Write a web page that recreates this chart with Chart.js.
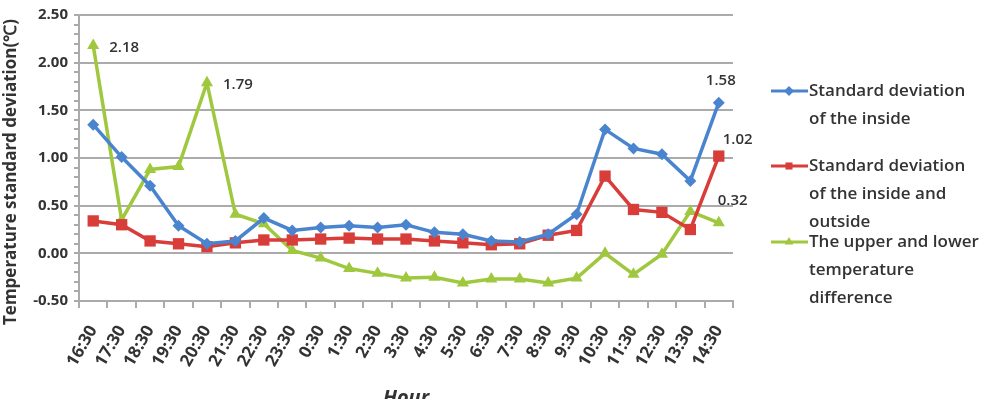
<!DOCTYPE html>
<html>
<head>
<meta charset="utf-8">
<script src="https://cdn.jsdelivr.net/npm/chart.js@4.4.1/dist/chart.umd.min.js"></script>
<style>
  html, body { margin: 0; padding: 0; background: #fff; }
  #wrap { width: 984px; height: 399px; position: relative; }
</style>
</head>
<body>
<div id="wrap"><canvas id="chart" width="984" height="399"></canvas></div>
<script>
// Hours on the x axis
const hours = ['16:30', '17:30', '18:30', '19:30', '20:30', '21:30', '22:30', '23:30',
  '0:30', '1:30', '2:30', '3:30', '4:30', '5:30', '6:30', '7:30', '8:30', '9:30',
  '10:30', '11:30', '12:30', '13:30', '14:30'];

// Standard deviation of the inside
const insideStd = [1.35, 1.01, 0.71, 0.29, 0.10, 0.13, 0.37, 0.24, 0.27, 0.29, 0.27, 0.30,
  0.22, 0.20, 0.13, 0.12, 0.20, 0.41, 1.30, 1.10, 1.04, 0.76, 1.58];

// Standard deviation of the inside and outside
const insideOutsideStd = [0.34, 0.30, 0.13, 0.10, 0.07, 0.11, 0.14, 0.14, 0.15, 0.16, 0.15, 0.15,
  0.13, 0.11, 0.09, 0.10, 0.19, 0.24, 0.81, 0.46, 0.43, 0.25, 1.02];

// The upper and lower temperature difference
const upperLowerDiff = [2.18, 0.35, 0.88, 0.91, 1.79, 0.41, 0.31, 0.03, -0.05, -0.16, -0.21, -0.26,
  -0.25, -0.31, -0.27, -0.27, -0.31, -0.26, 0.00, -0.22, -0.01, 0.44, 0.32];

// Legend text, wrapped as in the original
const legendLines = [
  ['Standard deviation', 'of the inside'],
  ['Standard deviation', 'of the inside and', 'outside'],
  ['The upper and lower', 'temperature', 'difference']
];

// Value labels shown next to some points: [dataset, index, dx, dy, align]
const valueLabels = [
  [2, 0, 16, 2, 'left'],
  [2, 4, 16, 2, 'left'],
  [0, 22, 2, -22, 'center'],
  [1, 22, 4, -16, 'left'],
  [2, 22, -1, -22, 'left']
];

const yTitle = 'Temperature standard deviation(℃)';

const BLUE = '#4a84cf';
const RED = '#d83d3a';
const GREEN = '#9fc83e';
const TEXT = '#333333';
const GRID = '#ababab';

// Draws the point value labels
const valueLabelPlugin = {
  id: 'valueLabels',
  afterDatasetsDraw(chart) {
    const ctx = chart.ctx;
    ctx.save();
    ctx.font = '600 15px "Open Sans"';
    ctx.fillStyle = TEXT;
    ctx.textBaseline = 'middle';
    valueLabels.forEach(([ds, i, dx, dy, align]) => {
      const pt = chart.getDatasetMeta(ds).data[i];
      const v = chart.data.datasets[ds].data[i];
      ctx.textAlign = align;
      ctx.fillText(v.toFixed(2), pt.x + dx, pt.y + dy);
    });
    ctx.restore();
  }
};

// Draws the legend on the right with wrapped labels, and the y axis title
const sideLegendPlugin = {
  id: 'sideLegend',
  afterDraw(chart) {
    const ctx = chart.ctx;
    const tops = [91, 166, 242];
    ctx.save();
    chart.data.datasets.forEach((ds, k) => {
      const y = tops[k];
      ctx.strokeStyle = ds.borderColor;
      ctx.lineWidth = 3;
      ctx.beginPath();
      ctx.moveTo(771, y);
      ctx.lineTo(808, y);
      ctx.stroke();
      ctx.fillStyle = ds.borderColor;
      Chart.helpers.drawPoint(ctx, { pointStyle: ds.pointStyle, radius: 5, borderWidth: 0 }, 789, y);
      ctx.fillStyle = TEXT;
      ctx.font = '600 17px "Open Sans"';
      ctx.textAlign = 'left';
      ctx.textBaseline = 'middle';
      legendLines[k].forEach((line, j) => {
        ctx.fillText(line, 809, y + j * 28);
      });
    });

    // y axis title, a bit lower than the plot centre as in the original
    ctx.translate(11, 172);
    ctx.rotate(-Math.PI / 2);
    ctx.font = 'bold 17px "Open Sans"';
    ctx.textAlign = 'center';
    ctx.textBaseline = 'middle';
    ctx.fillStyle = TEXT;
    ctx.fillText(yTitle, 0, 0);
    ctx.restore();
  }
};

const ctx = document.getElementById('chart').getContext('2d');
new Chart(ctx, {
  type: 'line',
  data: {
    labels: hours,
    datasets: [{
      label: 'Standard deviation of the inside',
      data: insideStd,
      borderColor: BLUE,
      backgroundColor: BLUE,
      borderWidth: 3.5,
      pointStyle: 'rectRot',
      pointRadius: 6,
      pointBorderWidth: 0,
      tension: 0
    }, {
      label: 'Standard deviation of the inside and outside',
      data: insideOutsideStd,
      borderColor: RED,
      backgroundColor: RED,
      borderWidth: 3.5,
      pointStyle: 'rect',
      pointRadius: 8,
      pointBorderWidth: 0,
      tension: 0
    }, {
      label: 'The upper and lower temperature difference',
      data: upperLowerDiff,
      borderColor: GREEN,
      backgroundColor: GREEN,
      borderWidth: 3.5,
      pointStyle: 'triangle',
      pointRadius: 7,
      pointBorderWidth: 0,
      tension: 0
    }]
  },
  options: {
    responsive: false,
    animation: false,
    layout: {
      padding: { top: 13, right: 251, left: 0, bottom: 0 }
    },
    plugins: {
      legend: { display: false },
      tooltip: { enabled: false }
    },
    scales: {
      x: {
        offset: true,
        grid: {
          offset: true,
          drawOnChartArea: false,
          drawTicks: true,
          tickLength: 7,
          tickColor: GRID,
          lineWidth: 2
        },
        border: { display: true, color: GRID, width: 2 },
        ticks: {
          color: TEXT,
          font: { family: '"Open Sans"', size: 17, weight: 'bold' },
          minRotation: 60,
          maxRotation: 60,
          autoSkip: false,
          padding: 14
        },
        title: {
          display: true,
          text: 'Hour',
          color: TEXT,
          font: { family: '"Open Sans"', size: 20, weight: 'bold', style: 'italic' },
          padding: { top: 0, bottom: -11 }
        },
        afterFit(scale) { scale.height = 98; }
      },
      y: {
        min: -0.5,
        max: 2.5,
        grid: {
          color: ctx => (Math.round(ctx.tick.value * 10) % 5 === 0 ? GRID : 'rgba(0,0,0,0)'),
          lineWidth: 2,
          tickLength: 5,
          tickColor: GRID
        },
        border: { display: true, color: GRID, width: 2 },
        ticks: {
          stepSize: 0.1,
          autoSkip: false,
          color: TEXT,
          font: { family: '"Open Sans"', size: 15, weight: 'bold' },
          padding: 6,
          callback: v => (Math.round(v * 10) % 5 === 0 ? v.toFixed(2) : '')
        },
        afterFit(scale) { scale.width = 79; }
      }
    }
  },
  plugins: [valueLabelPlugin, sideLegendPlugin]
});
</script>
</body>
</html>
